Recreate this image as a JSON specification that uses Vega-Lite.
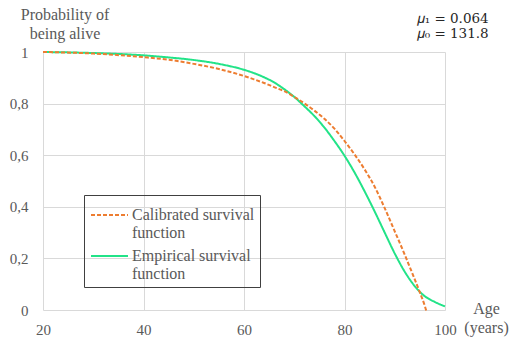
{
  "$schema": "https://vega.github.io/schema/vega-lite/v6.json",
  "width": 402,
  "height": 258,
  "autosize": "none",
  "padding": {"left": 43, "top": 52, "right": 64, "bottom": 28},
  "background": "white",
  "config": {
    "view": {"stroke": null},
    "font": "Liberation Serif, DejaVu Serif, serif"
  },
  "title": {
    "text": ["𝜇₁ = 0.064", "𝜇₀ = 131.8"],
    "anchor": "start",
    "align": "left",
    "frame": "group",
    "dx": 373.7,
    "dy": 48.5,
    "font": "DejaVu Serif, serif",
    "fontSize": 13.5,
    "fontWeight": "normal",
    "color": "#262626",
    "lineHeight": 15,
    "baseline": "bottom",
    "offset": 0
  },
  "data": {
    "values": [
      {"age": 20, "p": 1.000, "series": "Empirical survival function"},
      {"age": 30, "p": 0.996, "series": "Empirical survival function"},
      {"age": 40, "p": 0.987, "series": "Empirical survival function"},
      {"age": 45, "p": 0.979, "series": "Empirical survival function"},
      {"age": 50, "p": 0.969, "series": "Empirical survival function"},
      {"age": 55, "p": 0.954, "series": "Empirical survival function"},
      {"age": 60, "p": 0.931, "series": "Empirical survival function"},
      {"age": 62, "p": 0.918, "series": "Empirical survival function"},
      {"age": 64, "p": 0.902, "series": "Empirical survival function"},
      {"age": 66, "p": 0.882, "series": "Empirical survival function"},
      {"age": 68, "p": 0.856, "series": "Empirical survival function"},
      {"age": 70, "p": 0.826, "series": "Empirical survival function"},
      {"age": 72, "p": 0.790, "series": "Empirical survival function"},
      {"age": 74, "p": 0.752, "series": "Empirical survival function"},
      {"age": 76, "p": 0.707, "series": "Empirical survival function"},
      {"age": 78, "p": 0.655, "series": "Empirical survival function"},
      {"age": 80, "p": 0.598, "series": "Empirical survival function"},
      {"age": 82, "p": 0.533, "series": "Empirical survival function"},
      {"age": 84, "p": 0.460, "series": "Empirical survival function"},
      {"age": 86, "p": 0.382, "series": "Empirical survival function"},
      {"age": 88, "p": 0.300, "series": "Empirical survival function"},
      {"age": 90, "p": 0.219, "series": "Empirical survival function"},
      {"age": 92, "p": 0.148, "series": "Empirical survival function"},
      {"age": 94, "p": 0.092, "series": "Empirical survival function"},
      {"age": 95, "p": 0.070, "series": "Empirical survival function"},
      {"age": 96, "p": 0.053, "series": "Empirical survival function"},
      {"age": 98, "p": 0.031, "series": "Empirical survival function"},
      {"age": 100, "p": 0.014, "series": "Empirical survival function"},
      {"age": 20, "p": 1.000, "series": "Calibrated survival function"},
      {"age": 30, "p": 0.994, "series": "Calibrated survival function"},
      {"age": 40, "p": 0.980, "series": "Calibrated survival function"},
      {"age": 45, "p": 0.970, "series": "Calibrated survival function"},
      {"age": 50, "p": 0.954, "series": "Calibrated survival function"},
      {"age": 55, "p": 0.934, "series": "Calibrated survival function"},
      {"age": 60, "p": 0.907, "series": "Calibrated survival function"},
      {"age": 62, "p": 0.894, "series": "Calibrated survival function"},
      {"age": 64, "p": 0.880, "series": "Calibrated survival function"},
      {"age": 66, "p": 0.864, "series": "Calibrated survival function"},
      {"age": 68, "p": 0.848, "series": "Calibrated survival function"},
      {"age": 70, "p": 0.826, "series": "Calibrated survival function"},
      {"age": 72, "p": 0.801, "series": "Calibrated survival function"},
      {"age": 74, "p": 0.773, "series": "Calibrated survival function"},
      {"age": 76, "p": 0.741, "series": "Calibrated survival function"},
      {"age": 78, "p": 0.703, "series": "Calibrated survival function"},
      {"age": 80, "p": 0.655, "series": "Calibrated survival function"},
      {"age": 82, "p": 0.603, "series": "Calibrated survival function"},
      {"age": 84, "p": 0.545, "series": "Calibrated survival function"},
      {"age": 86, "p": 0.478, "series": "Calibrated survival function"},
      {"age": 88, "p": 0.395, "series": "Calibrated survival function"},
      {"age": 90, "p": 0.305, "series": "Calibrated survival function"},
      {"age": 92, "p": 0.214, "series": "Calibrated survival function"},
      {"age": 93, "p": 0.166, "series": "Calibrated survival function"},
      {"age": 94, "p": 0.118, "series": "Calibrated survival function"},
      {"age": 95, "p": 0.068, "series": "Calibrated survival function"},
      {"age": 96, "p": 0.015, "series": "Calibrated survival function"},
      {"age": 96.3, "p": -0.005, "series": "Calibrated survival function"}
    ]
  },
  "mark": {"type": "line", "interpolate": "monotone", "strokeWidth": 2, "clip": false},
  "encoding": {
    "x": {
      "field": "age",
      "type": "quantitative",
      "scale": {"domain": [20, 100], "nice": false, "zero": false},
      "axis": {
        "values": [20, 40, 60, 80, 100],
        "grid": true,
        "gridColor": "#d9d9d9",
        "domain": false,
        "ticks": false,
        "labelFlush": false,
        "labelOverlap": false,
        "labelFont": "Liberation Serif, DejaVu Serif, serif",
        "labelFontSize": 15,
        "labelColor": "#595959",
        "labelPadding": 12,
        "title": ["Age", "(years)"],
        "titleFont": "Liberation Serif, DejaVu Serif, serif",
        "titleFontSize": 16,
        "titleFontWeight": "normal",
        "titleColor": "#595959",
        "titleAngle": 0,
        "titleAlign": "center",
        "titleBaseline": "alphabetic",
        "titleLineHeight": 19.4,
        "titleX": 443,
        "titleY": 3.3
      }
    },
    "y": {
      "field": "p",
      "type": "quantitative",
      "scale": {"domain": [0, 1], "nice": false},
      "axis": {
        "values": [0, 0.2, 0.4, 0.6, 0.8, 1],
        "labelExpr": "datum.value == 0 || datum.value == 1 ? format(datum.value, 'd') : replace(format(datum.value, '.1f'), '.', ',')",
        "grid": true,
        "gridColor": "#d9d9d9",
        "domain": false,
        "ticks": false,
        "labelFlush": false,
        "labelOverlap": false,
        "labelFont": "Liberation Serif, DejaVu Serif, serif",
        "labelFontSize": 15,
        "labelColor": "#595959",
        "labelPadding": 15,
        "labelBaseline": "middle",
        "title": ["Probability of", "being alive"],
        "titleFont": "Liberation Serif, DejaVu Serif, serif",
        "titleFontSize": 16,
        "titleFontWeight": "normal",
        "titleColor": "#595959",
        "titleAngle": 0,
        "titleAlign": "center",
        "titleBaseline": "alphabetic",
        "titleLineHeight": 19,
        "titleX": 21.5,
        "titleY": -32.7
      }
    },
    "color": {
      "field": "series",
      "type": "nominal",
      "scale": {
        "domain": ["Calibrated survival function", "Empirical survival function"],
        "range": ["#ED7D31", "#22E388"]
      },
      "legend": {
        "orient": "none",
        "legendX": 41,
        "legendY": 143,
        "title": null,
        "strokeColor": "#404040",
        "padding": 5,
        "labelFont": "Liberation Serif, DejaVu Serif, serif",
        "labelFontSize": 16,
        "labelColor": "#595959",
        "labelBaseline": "alphabetic",
        "labelLineHeight": 18.5,
        "labelOffset": 3,
        "labelLimit": 300,
        "symbolType": "M-1,-0.24H1",
        "symbolSize": 1369,
        "symbolStrokeWidth": 2,
        "symbolFillColor": "transparent",
        "symbolOffset": 1,
        "rowPadding": 0,
        "labelExpr": "datum.label == 'Calibrated survival function' ? ['Calibrated survival', 'function'] : ['Empirical survival', 'function']"
      }
    },
    "strokeDash": {
      "field": "series",
      "type": "nominal",
      "scale": {
        "domain": ["Calibrated survival function", "Empirical survival function"],
        "range": [[4, 2], [1, 0]]
      },
      "legend": {
        "orient": "none",
        "legendX": 41,
        "legendY": 143,
        "title": null,
        "strokeColor": "#404040",
        "padding": 5,
        "labelFont": "Liberation Serif, DejaVu Serif, serif",
        "labelFontSize": 16,
        "labelColor": "#595959",
        "labelBaseline": "alphabetic",
        "labelLineHeight": 18.5,
        "labelOffset": 3,
        "labelLimit": 300,
        "symbolType": "M-1,-0.24H1",
        "symbolSize": 1369,
        "symbolStrokeWidth": 2,
        "symbolFillColor": "transparent",
        "symbolOffset": 1,
        "rowPadding": 0,
        "labelExpr": "datum.label == 'Calibrated survival function' ? ['Calibrated survival', 'function'] : ['Empirical survival', 'function']"
      }
    }
  }
}
